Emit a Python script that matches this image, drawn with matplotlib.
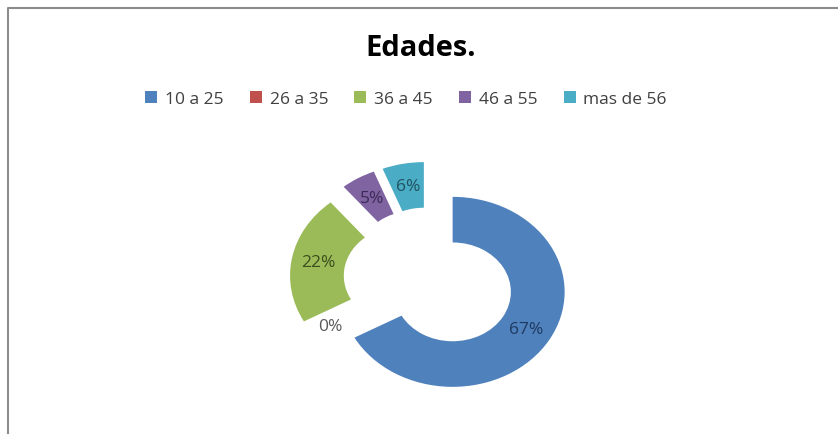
import matplotlib.pyplot as plt
from matplotlib.patches import Patch

# Datos del gráfico
categorias = ['10 a 25', '26 a 35', '36 a 45', '46 a 55', 'mas de 56']
porcentajes = [67, 0, 22, 5, 6]
colores = ['#4F81BD', '#C0504D', '#9BBB59', '#8064A2', '#4BACC6']
colores_texto = ['#1F3A5F', '#595959', '#3A4F1C', '#3B2A55', '#1F5360']

W, H = 838, 435
fig = plt.figure(figsize=(W / 100, H / 100), dpi=100)
ax = fig.add_axes([0, 0, 1, 1])
ax.set_xlim(0, W)
ax.set_ylim(0, H)
ax.axis('off')

# Donut (algo estirado en horizontal, como en la imagen original)
cx, cy = 429, 281          # centro en pixeles (y hacia abajo)
rx, ry = 112, 95           # radios horizontal / vertical
lim = 1.6
ax2 = fig.add_axes([(cx - rx * lim) / W, (H - cy - ry * lim) / H,
                    2 * rx * lim / W, 2 * ry * lim / H])
wedges, textos, pcts = ax2.pie(porcentajes, colors=colores, startangle=90, counterclock=False,
                               explode=[0.245] * len(porcentajes),
                               wedgeprops=dict(width=0.48, edgecolor='none'),
                               autopct='%.0f%%', pctdistance=0.76, frame=False,
                               textprops=dict(fontsize=12.5, family='Open Sans'))
for t, c in zip(pcts, colores_texto):
    t.set_color(c)
ax2.set_aspect('auto')
ax2.set_xlim(-lim, lim)
ax2.set_ylim(-lim, lim)
ax2.axis('off')

# Marco del gráfico
ax.plot([8, 8, W], [0, 426, 426], color='#8c8c8c', linewidth=1.5)

# Título
ax.text(421, H - 49, 'Edades.', ha='center', va='center', fontsize=21,
        fontweight='bold', family='Open Sans', color='black')

# Leyenda
handles = [Patch(facecolor=c, edgecolor='none') for c in colores]
leg = ax.legend(handles, categorias, ncol=5, loc='center', bbox_to_anchor=(406 / W, 1 - 100 / H),
                frameon=False, handlelength=0.7, handleheight=0.7,
                handletextpad=0.45, columnspacing=1.5, prop=dict(family='Open Sans', size=12.5))
for t in leg.get_texts():
    t.set_color('#404040')

plt.savefig('out.png', dpi=100)
